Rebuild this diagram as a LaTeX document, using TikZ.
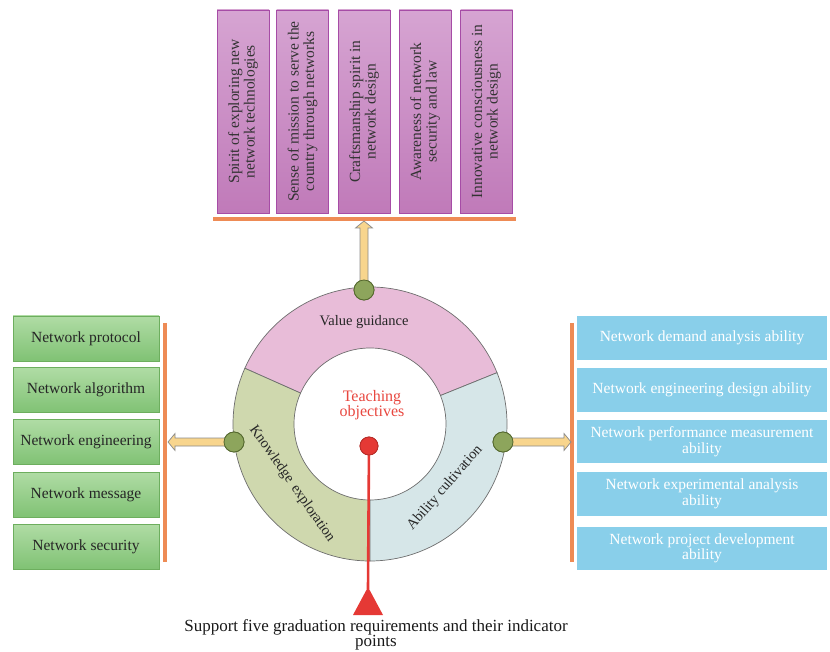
\documentclass[tikz,border=0pt]{standalone}
\usepackage{fontspec}
\setmainfont{Liberation Serif}
\usetikzlibrary{calc}
\definecolor{ringpink}{HTML}{E8BCD8}
\definecolor{ringgreen}{HTML}{CFD8AE}
\definecolor{ringblue}{HTML}{D6E6E8}
\definecolor{ringline}{HTML}{6E6E6E}
\definecolor{dotfill}{HTML}{8DA55C}
\definecolor{dotline}{HTML}{55692F}
\definecolor{arrfill}{HTML}{F8D58D}
\definecolor{arrline}{HTML}{8A8A8A}
\definecolor{gtop}{HTML}{B0DCA5}
\definecolor{gbot}{HTML}{80C274}
\definecolor{gbord}{HTML}{6DAE5E}
\definecolor{skyb}{HTML}{89CFEA}
\definecolor{ptop}{HTML}{D6A4D2}
\definecolor{pbot}{HTML}{C07AB9}
\definecolor{pbord}{HTML}{A64CA6}
\definecolor{orline}{HTML}{EE8B55}
\definecolor{tred}{HTML}{E53935}
\definecolor{tredtext}{HTML}{E8473F}
\begin{document}
\begin{tikzpicture}[x=1pt,y=1pt,
  boxfont/.style={font=\fontsize{15.5}{15.5}\selectfont},
  greenbox/.style={draw=gbord, top color=gtop, bottom color=gbot, minimum width=146, minimum height=45, inner sep=0pt, boxfont, text=black!85},
  bluebox/.style={fill=skyb, draw=none, minimum width=250, minimum height=44, inner sep=0pt, align=center, boxfont, text=white},
  purplebox/.style={draw=pbord, top color=ptop, bottom color=pbot, minimum width=52, minimum height=203, inner sep=0pt},
  ptext/.style={rotate=90, align=center, boxfont, text=black!80},
  gdot/.style={circle, draw=dotline, fill=dotfill, line width=0.8pt, minimum size=20, inner sep=0pt},
  reddot/.style={circle, draw=tred!80!black, fill=tred, line width=0.8pt, minimum size=18, inner sep=0pt},
  blockarr/.style={draw=arrline, fill=arrfill, line width=0.7pt, line join=miter},
  orangebar/.style={draw=orline, line width=3.2pt},
  ringseg/.style={draw=ringline, line width=0.7pt},
  ringtext/.style={font=\fontsize{14.5}{15}\selectfont, text=black!85}
]
\useasboundingbox (0,0) rectangle (830,-652);

% ---------- top purple boxes ----------
\foreach \i/\xx/\txt in {1/243/{Spirit of exploring new\\network technologies},
                          2/302.5/{Sense of mission to serve the\\country through networks},
                          3/364/{Craftsmanship spirit in\\network design},
                          4/425/{Awareness of network\\security and law},
                          5/486.5/{Innovative consciousness in\\network design}}{
  \node[purplebox] (pb\i) at (\xx,-111.5) {};
  \node[ptext] (pt\i) at (pb\i.center) {\txt};
}
\draw[orangebar] (213,-219) coordinate (otl) -- (516,-219) coordinate (otr);

% ---------- left green boxes ----------
\foreach \i/\yy/\txt in {1/338.5/Network protocol, 2/390/Network algorithm, 3/442/Network engineering,
                          4/494.5/Network message, 5/546.5/Network security}{
  \node[greenbox] (gb\i) at (86,-\yy) {\txt};
}
\draw[orangebar] (165,-323) coordinate (olt) -- (165,-562) coordinate (olb);

% ---------- right blue boxes ----------
\node[bluebox] (bb1) at (702,-338) {Network demand analysis ability};
\node[bluebox] (bb2) at (702,-390) {Network engineering design ability};
\node[bluebox, minimum height=43] (bb3) at (702,-441.5) {Network performance measurement\\ability};
\node[bluebox] (bb4) at (702,-494) {Network experimental analysis\\ability};
\node[bluebox, minimum height=43] (bb5) at (702,-548.5) {Network project development\\ability};
\draw[orangebar] (572,-323) coordinate (ort) -- (572,-562) coordinate (orb);

% ---------- ring ----------
\coordinate (c) at (370,-424);
\filldraw[ringseg, fill=ringpink] ($(c)+(22:137)$) arc[start angle=22, end angle=156, radius=137]
   -- ($(c)+(156:76)$) arc[start angle=156, end angle=22, radius=76] -- cycle;
\filldraw[ringseg, fill=ringgreen] ($(c)+(156:137)$) arc[start angle=156, end angle=270, radius=137]
   -- ($(c)+(270:76)$) arc[start angle=270, end angle=156, radius=76] -- cycle;
\filldraw[ringseg, fill=ringblue] ($(c)+(270:137)$) arc[start angle=270, end angle=382, radius=137]
   -- ($(c)+(382:76)$) arc[start angle=382, end angle=270, radius=76] -- cycle;

\node[ringtext] (vg) at (364,-322) {Value guidance};
\node[ringtext, rotate=-55] (ke) at (292,-484) {Knowledge\hspace{2pt} exploration};
\node[ringtext, rotate=49] (ac) at (445,-488) {Ability cultivation};
\node[font=\fontsize{16}{15}\selectfont, text=tredtext, align=center] (to) at (372,-405) {Teaching\\objectives};

% ---------- dots and block arrows ----------
\node[gdot] (dt) at (364,-290) {};
\node[gdot] (dl) at (234,-442) {};
\node[gdot] (dr) at (503,-442) {};
\coordinate (tt) at (364,-221);
\coordinate (lt) at (168,-442);
\coordinate (rt) at (571,-442);

\draw[blockarr] ($(dt.center)+(-4,0)$) -- ($(tt)+(-4,-7)$) -- ($(tt)+(-8.5,-7)$) -- (tt)
   -- ($(tt)+(8.5,-7)$) -- ($(tt)+(4,-7)$) -- ($(dt.center)+(4,0)$) -- cycle;
\draw[blockarr] ($(dl.center)+(0,4)$) -- ($(lt)+(7,4)$) -- ($(lt)+(7,8.5)$) -- (lt)
   -- ($(lt)+(7,-8.5)$) -- ($(lt)+(7,-4)$) -- ($(dl.center)+(0,-4)$) -- cycle;
\draw[blockarr] ($(dr.center)+(0,4)$) -- ($(rt)+(-7,4)$) -- ($(rt)+(-7,8.5)$) -- (rt)
   -- ($(rt)+(-7,-8.5)$) -- ($(rt)+(-7,-4)$) -- ($(dr.center)+(0,-4)$) -- cycle;
\node[gdot] at (dt) {};
\node[gdot] at (dl) {};
\node[gdot] at (dr) {};

% ---------- red pointer ----------
\coordinate (rtri) at (368,-589);
\node[reddot] (rd) at (369,-446) {};
\draw[tred, line width=2.6pt] (rd.center) -- (rtri);
\fill[tred] ($(rtri)+(0,2)$) -- ($(rtri)+(15,-26)$) -- ($(rtri)+(-15,-26)$) -- cycle;
\node[reddot] at (rd) {};

\node[font=\fontsize{17}{15}\selectfont, align=center, text=black!90] (sup) at (376,-635)
  {Support five graduation requirements and their indicator\\points};
\end{tikzpicture}
\end{document}
